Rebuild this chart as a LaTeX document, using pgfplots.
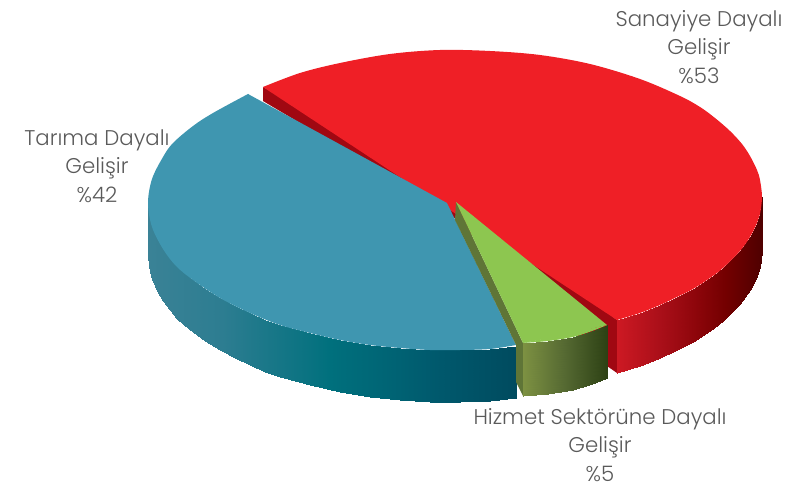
\documentclass[border=0pt]{standalone}
\usepackage{pgfplots}
\usepackage{fontspec}
\pgfplotsset{compat=1.18}
\setmainfont{Poppins}[UprightFont=* Light]
\definecolor{redtop}{RGB}{239,31,38}
\definecolor{redinner}{RGB}{160,8,18}
\definecolor{tealtop}{RGB}{63,150,176}
\definecolor{greentop}{RGB}{141,198,80}
\definecolor{greeninner}{RGB}{95,117,55}
\definecolor{labelgray}{RGB}{90,90,90}
\tikzset{lbl/.style={align=center, text=labelgray, font=\fontsize{21.3}{28.5}\selectfont}}
\pgfplotsset{
  colormap={redside}{rgb255(0cm)=(205,25,35) rgb255(3cm)=(170,15,25) rgb255(5.5cm)=(140,5,10) rgb255(7.5cm)=(115,0,0) rgb255(10cm)=(80,0,0)},
  colormap={tealside}{rgb255(0cm)=(58,130,150) rgb255(2cm)=(45,125,145) rgb255(5cm)=(0,112,125) rgb255(8cm)=(0,88,108) rgb255(10cm)=(0,75,95)},
  colormap={greenside}{rgb255(0cm)=(125,145,66) rgb255(5cm)=(85,105,50) rgb255(10cm)=(45,65,20)},
  side/.style={surf, shader=interp, mesh/rows=2, point meta=\thisrow{c}},
  arc/.style={smooth, tension=0.55, draw=none, fill=#1, mark=none},
}
\pgfplotstableread{
x y c
148 205 0.000
150 220 0.005
152 227 0.010
157 239 0.025
163 249 0.040
170 258 0.060
176 266 0.080
184 273 0.100
193 280 0.120
205 289 0.155
220 298 0.195
235 306 0.235
250 313 0.280
265 320 0.320
280 325 0.360
295 329 0.400
310 333 0.440
340 340 0.530
370 345 0.600
400 348 0.680
430 350 0.770
460 350 0.850
490 349 0.930
516 346 1.000
148 257 0.000
150 272 0.005
152 279 0.010
157 291 0.025
163 301 0.040
170 310 0.060
176 318 0.080
184 325 0.100
193 332 0.120
205 341 0.155
220 350 0.195
235 358 0.235
250 365 0.280
265 372 0.320
280 377 0.360
295 381 0.400
310 385 0.440
340 392 0.530
370 397 0.600
400 400 0.680
430 402 0.770
460 402 0.850
490 401 0.930
516 398 1.000
}\tealside
\pgfplotstableread{
x y c
617 320 0.00
640 313 0.16
660 305 0.30
677 297 0.41
693 289 0.52
710 278 0.64
723 268 0.73
740 251 0.85
750 237 0.92
757 223 0.97
760 214 0.99
762 197 1.00
617 373 0.00
640 366 0.16
660 358 0.30
677 350 0.41
693 342 0.52
710 331 0.64
723 321 0.73
740 304 0.85
750 290 0.92
757 276 0.97
760 267 0.99
762 252 1.00
}\redside
\pgfplotstableread{
x y c
523 343 0.00
548 341 0.30
573 337 0.60
592 331 0.82
607 325 1.00
523 396 0.00
548 394 0.30
573 390 0.60
592 384 0.82
607 378 1.00
}\greenside
\begin{document}
\begin{tikzpicture}
\begin{axis}[
  scale only axis, width=795pt, height=489pt,
  xmin=0, xmax=795, ymin=0, ymax=489, y dir=reverse,
  hide axis, clip=false,
  point meta min=0, point meta max=1,
]
\path (axis cs:0,0) rectangle (axis cs:795,489);
% red slice: inner wall, rim, top
\addplot[draw=none, fill=redinner] coordinates {(263,87) (263,101) (446,210) (607,366) (617,373) (617,320) (448,190)};
\addplot[side, colormap name=redside] table {\redside};
\addplot[arc=redtop] coordinates {
  (263,87) (300,73) (340,63) (390,54) (440,50) (490,51) (540,55) (590,64) (640,79)
  (680,96) (700,107) (715,118) (730,131) (742,144) (750,156) (757,170) (760,180)
  (762,197) (760,214) (757,223) (750,237) (740,251) (723,268) (710,278) (693,289)
  (677,297) (660,305) (640,313) (617,320)
};
\addplot[draw=none, fill=redtop] coordinates {(263,87) (448,190) (617,320) (600,150) (400,90)};
% teal slice
\addplot[side, colormap name=tealside] table {\tealside};
\addplot[arc=tealtop] coordinates {
  (248,94) (213,113) (193,126) (173,143) (163,157) (152,179) (148,203)
  (152,227) (163,249) (176,266) (193,280) (220,298) (250,313) (280,325) (310,333)
  (340,340) (370,345) (400,348) (430,350) (460,350) (490,349) (516,345)
};
\addplot[draw=none, fill=tealtop] coordinates {(248,94) (447,203) (516,345) (350,300) (200,200)};
% green slice
\addplot[draw=none, fill=greeninner] coordinates {(456,202) (523,343) (523,396) (516,382) (516,345) (455,220)};
\addplot[side, colormap name=greenside] table {\greenside};
\addplot[arc=greentop] coordinates {(607,325) (592,331) (573,337) (548,341) (523,343)};
\addplot[draw=none, fill=greentop] coordinates {(456,202) (607,325) (565,335) (523,343)};
\node[lbl] at (axis cs:699,47) {Sanayiye Dayalı\\Gelişir\\\%53};
\node[lbl] at (axis cs:97,166) {Tarıma Dayalı\\Gelişir\\\%42};
\node[lbl] at (axis cs:600,445) {Hizmet Sektörüne Dayalı\\Gelişir\\\%5};
\end{axis}
\end{tikzpicture}
\end{document}
